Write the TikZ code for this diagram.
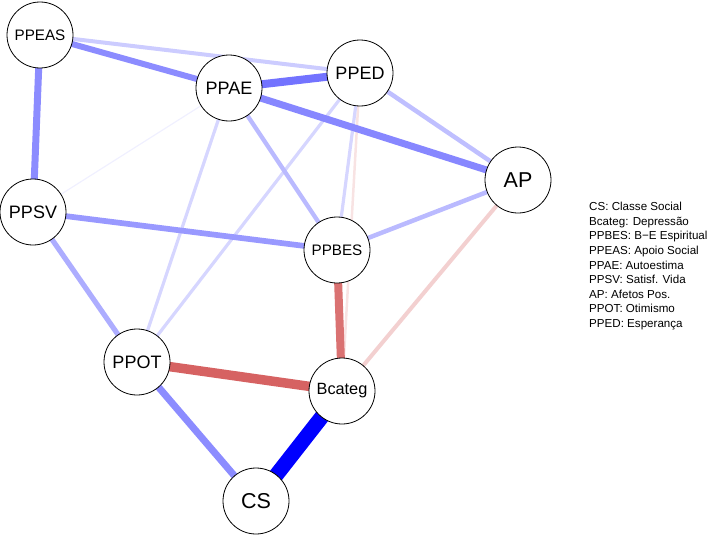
\documentclass[tikz,border=0pt]{standalone}
\usepackage{fontspec}
\setmainfont{Liberation Sans}
\usetikzlibrary{backgrounds}
\definecolor{posedge}{RGB}{0,0,255}
\definecolor{negedge}{RGB}{214,98,98}

\begin{document}
\begin{tikzpicture}[
  x=1pt,y=-1pt,
  varnode/.style={circle,draw=black,line width=0.8pt,fill=white,
                minimum size=66pt,inner sep=0pt},
  poslink/.style={draw=posedge!#1!white},
  neglink/.style={draw=negedge!#1!white}
]
\useasboundingbox (0,0) rectangle (708,535);

% --- Variables ---
\node[varnode,font=\fontsize{15.2}{15.2}\selectfont] (PPEAS) at (40,35) {PPEAS};
\node[varnode,font=\fontsize{18}{18}\selectfont] (PPAE) at (229,88) {PPAE};
\node[varnode,font=\fontsize{18}{18}\selectfont] (PPED) at (360,73) {PPED};
\node[varnode,font=\fontsize{21.5}{21.5}\selectfont] (AP) at (518,180) {AP};
\node[varnode,font=\fontsize{18}{18}\selectfont] (PPSV) at (33,212) {PPSV};
\node[varnode,font=\fontsize{15.2}{15.2}\selectfont] (PPBES) at (337,250) {PPBES};
\node[varnode,font=\fontsize{18}{18}\selectfont] (PPOT) at (137,362) {PPOT};
\node[varnode,font=\fontsize{16.3}{16.3}\selectfont] (Bcateg) at (342,391) {Bcateg};
\node[varnode,font=\fontsize{21.5}{21.5}\selectfont] (CS) at (256,501) {CS};

% --- Edges, weakest first ---
\begin{scope}[on background layer]
\draw[poslink=6,line width=1.2pt] (PPSV.center) -- (PPAE.center);
\draw[neglink=18,line width=2.5pt] (PPED.center) -- (Bcateg.center);
\draw[poslink=16,line width=3.2pt] (PPED.center) -- (PPBES.center);
\draw[poslink=16,line width=3.2pt] (PPED.center) -- (PPOT.center);
\draw[poslink=16,line width=3.2pt] (PPAE.center) -- (PPOT.center);
\draw[poslink=20,line width=4pt] (PPEAS.center) -- (PPED.center);
\draw[neglink=30,line width=4pt] (AP.center) -- (Bcateg.center);
\draw[poslink=27,line width=4.3pt] (PPAE.center) -- (PPBES.center);
\draw[poslink=25,line width=4.5pt] (PPED.center) -- (AP.center);
\draw[poslink=27,line width=4.5pt] (AP.center) -- (PPBES.center);
\draw[poslink=32,line width=5.2pt] (PPSV.center) -- (PPOT.center);
\draw[poslink=40,line width=5.7pt] (PPSV.center) -- (PPBES.center);
\draw[poslink=45,line width=6pt] (PPEAS.center) -- (PPAE.center);
\draw[poslink=45,line width=7pt] (PPOT.center) -- (CS.center);
\draw[poslink=47,line width=7pt] (PPAE.center) -- (AP.center);
\draw[poslink=45,line width=7pt] (PPEAS.center) -- (PPSV.center);
\draw[neglink=90,line width=8pt] (PPBES.center) -- (Bcateg.center);
\draw[poslink=55,line width=8pt] (PPAE.center) -- (PPED.center);
\draw[neglink=100,line width=9.5pt] (PPOT.center) -- (Bcateg.center);
\draw[poslink=100,line width=15pt] (Bcateg.center) -- (CS.center);
\end{scope}

% --- Legend ---
\node[anchor=north west,align=left,inner sep=0pt,
      font=\fontsize{11.6}{14.6}\selectfont] (legend) at (589,202)
  {CS: Classe Social\\
   Bcateg: Depressão\\
   PPBES: B−E Espiritual\\
   PPEAS: Apoio Social\\
   PPAE: Autoestima\\
   PPSV: Satisf. Vida\\
   AP: Afetos Pos.\\
   PPOT: Otimismo\\
   PPED: Esperança};
\end{tikzpicture}
\end{document}
